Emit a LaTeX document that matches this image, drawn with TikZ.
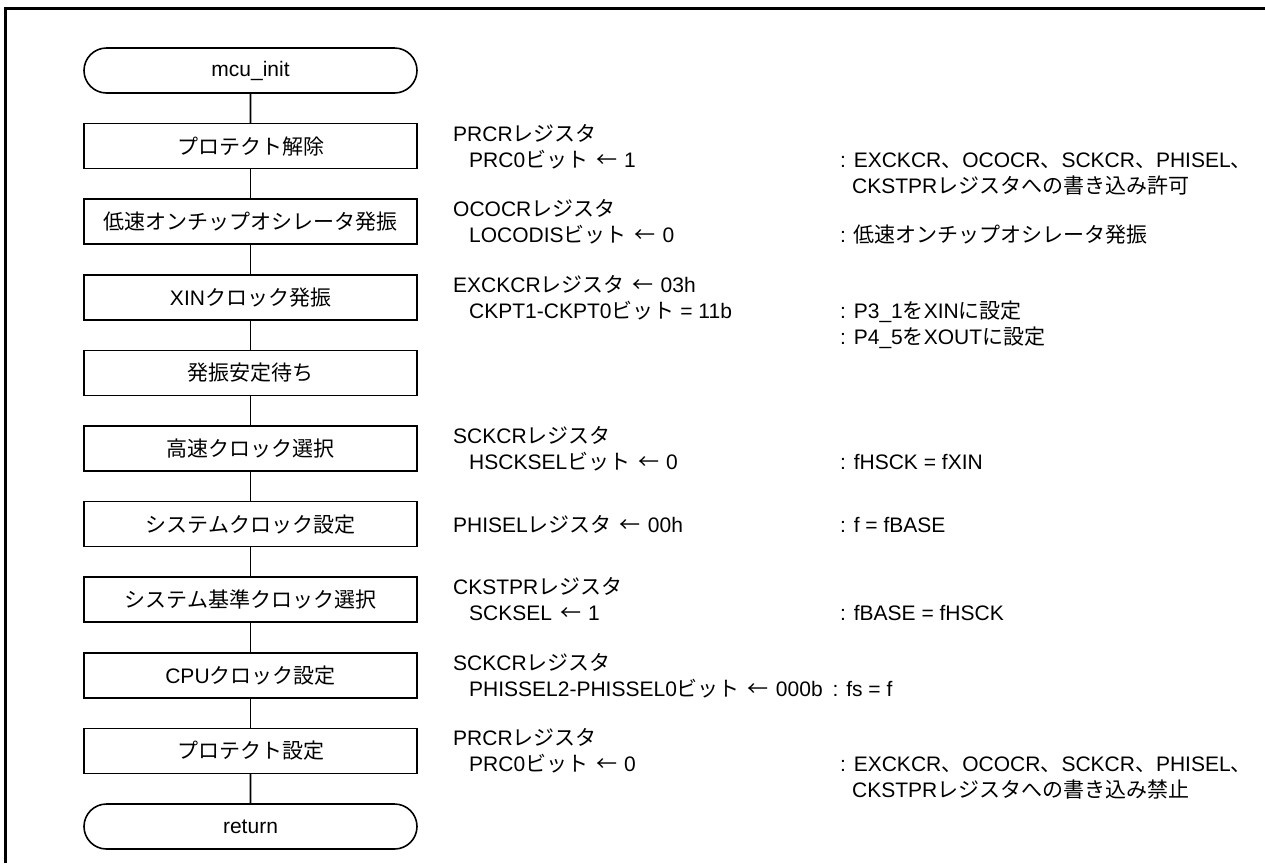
\documentclass[tikz,border=0pt]{standalone}
\usepackage{fontspec}
\setmainfont{Liberation Sans}
\newfontfamily\jpf{Noto Sans CJK JP}
\usetikzlibrary{shapes.misc}
\newcommand{\J}[1]{{\jpf #1}}
\newcommand{\arr}{\hspace{8pt}{\jpf ←}\hspace{7pt}}
\newcommand{\boxfont}{\fontsize{21pt}{25pt}\selectfont}
\newcommand{\txtfont}{\fontsize{21pt}{26pt}\selectfont}
\begin{document}
\begin{tikzpicture}[x=1pt,y=-1pt,
  proc/.style={draw, line width=1.6pt, minimum width=333pt, minimum height=45pt, inner sep=0pt, font=\boxfont},
  term/.style={proc, rounded rectangle},
  txt/.style={anchor=base west, inner sep=0pt, font=\txtfont},
  flow/.style={line width=1.6pt},
  frame/.style={line width=3pt}]
\useasboundingbox (0,0) rectangle (1265,863);
\draw[frame] (5,863) -- (5,8) -- (1265,8);

\node[term] (n0)  at (250.5,70.5)  {mcu\_init};
\node[proc] (n1)  at (250.5,146.1) {\J{プロテクト解除}};
\node[proc] (n2)  at (250.5,221.7) {\J{低速オンチップオシレータ発振}};
\node[proc] (n3)  at (250.5,297.3) {XIN\J{クロック発振}};
\node[proc] (n4)  at (250.5,372.9) {\J{発振安定待ち}};
\node[proc] (n5)  at (250.5,448.5) {\J{高速クロック選択}};
\node[proc] (n6)  at (250.5,524.1) {\J{システムクロック設定}};
\node[proc] (n7)  at (250.5,599.7) {\J{システム基準クロック選択}};
\node[proc] (n8)  at (250.5,675.3) {CPU\J{クロック設定}};
\node[proc] (n9)  at (250.5,750.9) {\J{プロテクト設定}};
\node[term] (n10) at (250.5,826.5) {return};

\foreach \a/\b in {n0/n1,n1/n2,n2/n3,n3/n4,n4/n5,n5/n6,n6/n7,n7/n8,n8/n9,n9/n10}
  \draw[flow] (\a) -- (\b);

% box 1
\node[txt] (r1a) at (453,141.1) {PRCR\J{レジスタ}};
\node[txt] (r1b) at (469,167.1) {PRC0\J{ビット}\arr1};
\node[txt] (r1c) at (840,167.1) {: EXCKCR\J{、}OCOCR\J{、}SCKCR\J{、}PHISEL\J{、}};
\node[txt] (r1d) at (852,193.1) {CKSTPR\J{レジスタへの書き込み許可}};
% box 2
\node[txt] (r2a) at (453,216.7) {OCOCR\J{レジスタ}};
\node[txt] (r2b) at (469,242.7) {LOCODIS\J{ビット}\arr0};
\node[txt] (r2c) at (840,242.7) {: \J{低速オンチップオシレータ発振}};
% box 3
\node[txt] (r3a) at (453,292.3) {EXCKCR\J{レジスタ}\arr03h};
\node[txt] (r3b) at (469,318.3) {CKPT1-CKPT0\J{ビット} = 11b};
\node[txt] (r3c) at (840,318.3) {: P3\_1\J{を}XIN\J{に設定}};
\node[txt] (r3d) at (840,344.3) {: P4\_5\J{を}XOUT\J{に設定}};
% box 5
\node[txt] (r5a) at (453,443.5) {SCKCR\J{レジスタ}};
\node[txt] (r5b) at (469,469.5) {HSCKSEL\J{ビット}\arr0};
\node[txt] (r5c) at (840,469.5) {: fHSCK = fXIN};
% box 6
\node[txt] (r6a) at (453,532) {PHISEL\J{レジスタ}\arr00h};
\node[txt] (r6c) at (840,532) {: f = fBASE};
% box 7
\node[txt] (r7a) at (453,594.7) {CKSTPR\J{レジスタ}};
\node[txt] (r7b) at (469,620.7) {SCKSEL\arr1};
\node[txt] (r7c) at (840,620.7) {: fBASE = fHSCK};
% box 8
\node[txt] (r8a) at (453,670.3) {SCKCR\J{レジスタ}};
\node[txt] (r8b) at (469,696.3) {PHISSEL2-PHISSEL0\J{ビット}\arr000b\hspace{10pt}: fs = f};
% box 9
\node[txt] (r9a) at (453,745.9) {PRCR\J{レジスタ}};
\node[txt] (r9b) at (469,771.9) {PRC0\J{ビット}\arr0};
\node[txt] (r9c) at (840,771.9) {: EXCKCR\J{、}OCOCR\J{、}SCKCR\J{、}PHISEL\J{、}};
\node[txt] (r9d) at (852,797.9) {CKSTPR\J{レジスタへの書き込み禁止}};
\end{tikzpicture}
\end{document}
